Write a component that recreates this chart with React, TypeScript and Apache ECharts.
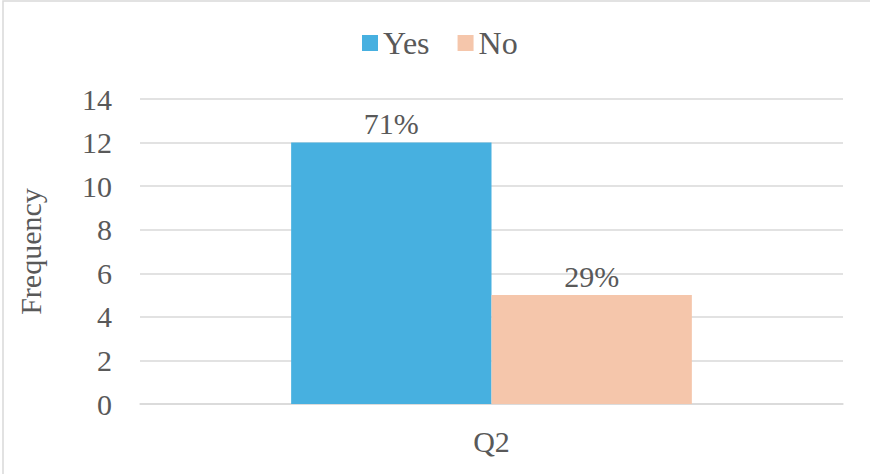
import React, { useEffect, useRef } from "react";
import * as echarts from "echarts";

const categories = ["Q2"];
const seriesNames = ["Yes", "No"];
const yesValues = [12];
const noValues = [5];
const percentLabels = ["71%", "29%"];
const yTicks = { min: 0, max: 14, interval: 2 };

const FONT = "'Times New Roman', Times, 'Liberation Serif', 'DejaVu Serif', serif";
const TEXT = "#595959";

export default function App() {
  const ref = useRef<HTMLDivElement>(null);
  useEffect(() => {
    if (!ref.current) return;
    const chart = echarts.init(ref.current, undefined, { renderer: "svg" });
    const txt = { fontFamily: FONT, fontSize: 30, color: TEXT };
    chart.setOption({
      animation: false,
      backgroundColor: "#ffffff",
      textStyle: txt,
      graphic: [
        {
          type: "rect",
          shape: { x: 3, y: 1, width: 900, height: 500 },
          style: { fill: "none", stroke: "#d9d9d9", lineWidth: 1.5 },
          silent: true,
          z: -1,
        },
      ],
      legend: {
        left: 357,
        top: 22,
        itemWidth: 16,
        itemHeight: 16,
        itemGap: 28,
        icon: "rect",
        textStyle: { ...txt, fontSize: 32 },
        data: seriesNames,
      },
      grid: { left: 140, right: 27, top: 99, bottom: 70 },
      xAxis: {
        type: "category",
        data: categories,
        axisLine: { show: true, lineStyle: { color: "#d9d9d9", width: 1.5 } },
        axisTick: { show: false },
        axisLabel: { ...txt, margin: 22 },
      },
      yAxis: {
        type: "value",
        min: yTicks.min,
        max: yTicks.max,
        interval: yTicks.interval,
        name: "Frequency",
        nameLocation: "middle",
        nameRotate: 90,
        nameGap: 95,
        nameTextStyle: { ...txt },
        axisLine: { show: false },
        axisTick: { show: false },
        axisLabel: { ...txt, margin: 28 },
        splitLine: { lineStyle: { color: "#d9d9d9", width: 1.5 } },
      },
      series: [
        {
          name: seriesNames[0],
          type: "bar",
          data: yesValues,
          barGap: "0%",
          barCategoryGap: "43%",
          itemStyle: { color: "#47b0e0" },
          label: {
            show: true,
            position: "top",
            distance: 4,
            formatter: () => percentLabels[0],
            ...txt,
          },
        },
        {
          name: seriesNames[1],
          type: "bar",
          data: noValues,
          itemStyle: { color: "#f5c6ab" },
          label: {
            show: true,
            position: "top",
            distance: 4,
            formatter: () => percentLabels[1],
            ...txt,
          },
        },
      ],
    });
    return () => chart.dispose();
  }, []);
  return (
    <div style={{ position: "absolute", left: 0, top: 0, width: 870, height: 474 }}>
      <div ref={ref} style={{ width: 870, height: 474 }} />
    </div>
  );
}
